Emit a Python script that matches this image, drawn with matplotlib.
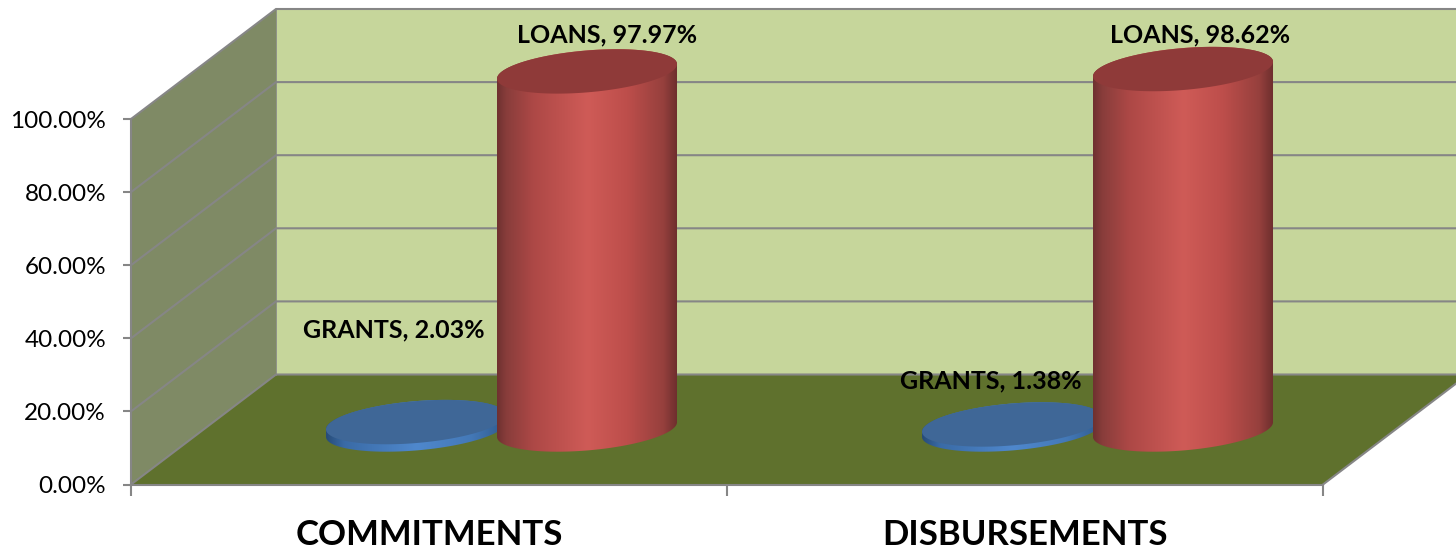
import numpy as np
import matplotlib
matplotlib.use("Agg")
import matplotlib.pyplot as plt
from matplotlib.colors import LinearSegmentedColormap
from matplotlib.patches import Polygon

categories = ["COMMITMENTS", "DISBURSEMENTS"]
grants = [2.03, 1.38]
loans = [97.97, 98.62]
y_ticks = [0, 20, 40, 60, 80, 100]

W, H = 1456, 548
plt.rcParams["font.family"] = ["Lato", "DejaVu Sans"]
fig = plt.figure(figsize=(W / 100, H / 100), dpi=100, facecolor="white")
L, R, T, B = 131, 1323, 119, 484.5
ax = fig.add_axes([L / W, 1 - B / H, (R - L) / W, (B - T) / H])
ax.set_facecolor("none")
ax.set_xlim(0, len(categories))
ax.set_ylim(0, 100)

PX = (R - L) / len(categories)
PY = (B - T) / 100
DX, DY = 145 / PX, 110 / PY  # oblique depth in data units
GRID = "#868686"
LW = 1.5

# walls and floor
side = Polygon([(0, 0), (DX, DY), (DX, 100 + DY), (0, 100)], fc="#7f8a65", ec="none", clip_on=False, zorder=1)
back = Polygon([(DX, DY), (2 + DX, DY), (2 + DX, 100 + DY), (DX, 100 + DY)], fc="#c6d69b", ec="none", clip_on=False, zorder=1)
floor = Polygon([(0, 0), (2, 0), (2 + DX, DY), (DX, DY)], fc="#5f712d", ec="none", clip_on=False, zorder=2)
for p in (side, back, floor):
    ax.add_patch(p)
for v in y_ticks:
    ax.plot([0, DX, 2 + DX], [v, v + DY, v + DY], color=GRID, lw=LW, clip_on=False, zorder=3 if v else 3, solid_joinstyle="miter")
ax.plot([2, 2 + DX], [0, DY], color=GRID, lw=LW, clip_on=False, zorder=3)
ax.plot([DX, DX], [DY, 100 + DY], color=GRID, lw=0.6, clip_on=False, zorder=3)

# cylinders
A, Bk = 85 / PX, 37.0  # ellipse axis along x and along depth (px for depth)
EX, EY = 0.8 * Bk / PX, 0.6 * Bk / PY
t0 = np.arctan2(0.8 * Bk, 85)
red_cmap = LinearSegmentedColormap.from_list("r", [(0, "#6f3130"), (.05, "#883d3b"), (.2, "#ad4846"), (.5, "#cf5b57"), (.72, "#bd4e4b"), (.92, "#96403d"), (1, "#6c2e2d")])
blue_cmap = LinearSegmentedColormap.from_list("b", [(0, "#274c78"), (.1, "#3a6ba6"), (.5, "#4f88cd"), (.8, "#4479b8"), (1, "#2f5a8c")])


def ellipse(cx, cy, t):
    return np.c_[cx + A * np.cos(t) + EX * np.sin(t), cy + EY * np.sin(t)]


def cylinder(cx, value, cmap, top_color, z):
    t = np.linspace(t0, t0 - np.pi, 80)
    base = ellipse(cx, DY / 2, t)
    upper = ellipse(cx, DY / 2 + value, t - np.pi)
    body = Polygon(np.r_[base, upper], fc="none", ec="none", clip_on=False, transform=ax.transData)
    ax.add_patch(body)
    half = np.hypot(A, EX)
    im = ax.imshow(np.linspace(0, 1, 256)[None, :], cmap=cmap, aspect="auto",
                   extent=[cx - half, cx + half, DY / 2 - EY - 1, DY / 2 + value + EY + 1], zorder=z, interpolation="bilinear")
    im.set_clip_box(fig.bbox)
    im.set_clip_path(body)
    full = np.linspace(0, 2 * np.pi, 160)
    ax.add_patch(Polygon(ellipse(cx, DY / 2 + value, full), fc=top_color, ec="none", clip_on=False, zorder=z + 0.1))


OFF = 85.5 / PX
for i, (g, l) in enumerate(zip(grants, loans)):
    c = i + 0.5 + DX / 2
    cylinder(c - OFF, g, blue_cmap, "#3f6797", 4)
    cylinder(c + OFF, l, red_cmap, "#8f3a39", 5)

# data labels: offsets in px from the top of each cylinder
def label(x, value, dx, dy, name):
    ax.annotate(f"{name}, {value:.2f}%", (x, value + DY / 2), xytext=(dx * .72, dy * .72), textcoords="offset points",
                ha="center", va="center", fontsize=LABEL_FS, fontweight="bold", color="black", annotation_clip=False, zorder=8)


LABEL_FS = 18
grant_off = [(-22, 92), (-21, 44)]
loan_off = [(20, 36), (17, 34)]
for i, (g, l) in enumerate(zip(grants, loans)):
    c = i + 0.5 + DX / 2
    label(c - OFF, g, *grant_off[i], "GRANTS")
    label(c + OFF, l, *loan_off[i], "LOANS")

# axes
for s in ("top", "right"):
    ax.spines[s].set_visible(False)
for s in ("left", "bottom"):
    ax.spines[s].set_color(GRID)
    ax.spines[s].set_linewidth(LW)
    ax.spines[s].set_zorder(6)
ax.set_yticks(y_ticks, [f"{v:.2f}%" for v in y_ticks])
ax.tick_params(axis="y", length=6, width=LW, color=GRID, labelsize=17.5, pad=12)
ax.set_xticks(range(len(categories) + 1), [""] * (len(categories) + 1))
ax.tick_params(axis="x", which="major", length=8, width=LW, color=GRID)
ax.set_xticks(np.arange(len(categories)) + 0.5, categories, minor=True)
ax.tick_params(axis="x", which="minor", length=0, labelsize=25, pad=25)
for t in ax.get_xticklabels(minor=True):
    t.set_fontweight("bold")

ax.set_xlim(0, len(categories))
ax.set_ylim(0, 100)
fig.savefig("out.png", dpi=100, facecolor="white")
